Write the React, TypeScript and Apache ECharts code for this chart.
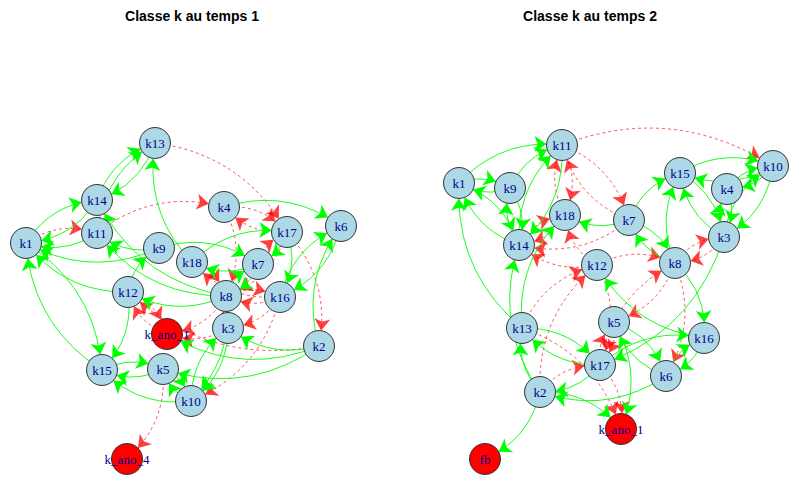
import React, { useEffect, useRef } from 'react';
import * as echarts from 'echarts';

// graph 1 : node names, positions (x, y in chart units) and class
const nodes1 = ['k13', 'k14', 'k11', 'k1', 'k9', 'k18', 'k4', 'k17', 'k6', 'k7', 'k16', 'k8', 'k3', 'k2', 'k12', 'k_ano_1', 'k15', 'k5', 'k10', 'k_ano_4'];
const posX1 = [155, 97, 97, 26, 159, 192, 224, 287, 341, 258, 280, 226, 228, 319, 128, 167, 102, 163, 191, 127];
const posY1 = [143, 200, 233, 243, 248, 262, 207, 232, 226, 264, 297, 296, 328, 346, 292, 334, 370, 369, 401, 459];
const anomaly1 = ['k_ano_1', 'k_ano_4'];

const green1 = [
  ['k13', 'k14'], ['k14', 'k13'], ['k11', 'k13'], ['k1', 'k14'], ['k11', 'k1'], ['k14', 'k1'],
  ['k12', 'k1'], ['k15', 'k1'], ['k1', 'k15'], ['k9', 'k1'], ['k9', 'k11'], ['k8', 'k11'],
  ['k12', 'k9'], ['k12', 'k15'], ['k18', 'k13'], ['k8', 'k14'], ['k7', 'k18'], ['k18', 'k17'],
  ['k4', 'k6'], ['k17', 'k7'], ['k6', 'k16'], ['k16', 'k6'], ['k17', 'k16'], ['k8', 'k7'],
  ['k7', 'k8'], ['k3', 'k10'], ['k10', 'k3'], ['k8', 'k10'], ['k5', 'k10'], ['k10', 'k5'],
  ['k15', 'k5'], ['k5', 'k15'], ['k10', 'k15'], ['k2', 'k3'], ['k2', 'k5'], ['k2', 'k_ano_1'],
  ['k2', 'k6'], ['k8', 'k12'], ['k9', 'k7']
];
const red1 = [
  ['k13', 'k17'], ['k4', 'k17'], ['k17', 'k4'], ['k11', 'k4'], ['k4', 'k8'], ['k16', 'k18'],
  ['k18', 'k8'], ['k7', 'k17'], ['k17', 'k8'], ['k16', 'k8'], ['k8', 'k16'], ['k17', 'k2'],
  ['k3', 'k8'], ['k16', 'k3'], ['k8', 'k_ano_1'], ['k3', 'k_ano_1'], ['k12', 'k_ano_1'],
  ['k_ano_1', 'k12'], ['k1', 'k11'], ['k5', 'k_ano_4'], ['k16', 'k10'], ['k2', 'k12']
];

// graph 2
const nodes2 = ['k11', 'k1', 'k9', 'k18', 'k7', 'k14', 'k12', 'k15', 'k10', 'k4', 'k3', 'k8', 'k13', 'k5', 'k16', 'k17', 'k6', 'k2', 'k_ano_1', 'fb'];
const posX2 = [562, 459, 510, 565, 629, 519, 597, 680, 773, 727, 724, 675, 522, 614, 704, 600, 666, 540, 621, 485];
const posY2 = [145, 183, 188, 215, 220, 245, 265, 173, 166, 189, 237, 263, 328, 322, 338, 365, 376, 392, 429, 459];
const anomaly2 = ['k_ano_1', 'fb'];

const green2 = [
  ['k1', 'k11'], ['k9', 'k11'], ['k14', 'k11'], ['k9', 'k1'], ['k1', 'k9'], ['k14', 'k1'],
  ['k13', 'k1'], ['k1', 'k14'], ['k9', 'k14'], ['k14', 'k9'], ['k11', 'k14'], ['k2', 'k14'],
  ['k13', 'k18'], ['k7', 'k18'], ['k7', 'k15'], ['k8', 'k7'], ['k7', 'k8'], ['k8', 'k15'],
  ['k8', 'k16'], ['k3', 'k17'], ['k15', 'k10'], ['k10', 'k15'], ['k4', 'k10'], ['k10', 'k4'],
  ['k3', 'k10'], ['k10', 'k3'], ['k3', 'k4'], ['k4', 'k3'], ['k15', 'k3'], ['k3', 'k15'],
  ['k16', 'k12'], ['k13', 'k17'], ['k17', 'k13'], ['k2', 'k13'], ['k17', 'k2'], ['k2', 'k_ano_1'],
  ['k6', 'k2'], ['k2', 'fb'], ['k17', 'k16'], ['k16', 'k6'], ['k6', 'k16'], ['k5', 'k6'],
  ['k6', 'k5'], ['k5', 'k_ano_1']
];
const red2 = [
  ['k11', 'k10'], ['k11', 'k7'], ['k7', 'k11'], ['k11', 'k18'], ['k18', 'k11'], ['k18', 'k14'],
  ['k12', 'k14'], ['k14', 'k18'], ['k12', 'k18'], ['k13', 'k12'], ['k2', 'k12'], ['k12', 'k8'],
  ['k17', 'k8'], ['k8', 'k3'], ['k3', 'k8'], ['k17', 'k_ano_1'], ['k13', 'k_ano_1'], ['k2', 'k17'],
  ['k5', 'k17'], ['k17', 'k5'], ['k8', 'k6'], ['k8', 'k5'], ['k7', 'k14'], ['k12', 'k17']
];

const titles = ['Classe k au temps 1', 'Classe k au temps 2'];

const GREEN = '#00ff00';
const RED = '#ff0000';

const buildNodes = (names: string[], xs: number[], ys: number[], anomalies: string[]) =>
  names.map((name, i) => ({
    name,
    value: [xs[i], ys[i]],
    itemStyle: { color: anomalies.includes(name) ? RED : '#add8e6' }
  }));

const buildLinks = (green: string[][], red: string[][]) => [
  ...red.map(([source, target]) => ({
    source,
    target,
    lineStyle: { color: RED, width: 0.9, type: [3, 3], opacity: 0.75 }
  })),
  ...green.map(([source, target]) => ({
    source,
    target,
    lineStyle: { color: GREEN, width: 0.9, type: 'solid', opacity: 1 }
  }))
];

const graphSeries = (nodes: any[], links: any[]) => ({
  type: 'graph',
  coordinateSystem: 'cartesian2d',
  xAxisIndex: 0,
  yAxisIndex: 0,
  symbol: 'circle',
  symbolSize: 31,
  edgeSymbol: ['none', 'arrow'],
  edgeSymbolSize: [0, 12],
  itemStyle: { borderColor: '#333333', borderWidth: 1 },
  label: {
    show: true,
    position: 'inside',
    color: '#00008b',
    fontFamily: 'Liberation Serif',
    fontSize: 13
  },
  lineStyle: { curveness: 0.25 },
  emphasis: { disabled: true },
  data: nodes,
  links
});

const App: React.FC = () => {
  const chartRef = useRef<HTMLDivElement>(null);

  useEffect(() => {
    if (!chartRef.current) return;
    const myChart = echarts.init(chartRef.current, null, { renderer: 'svg' });

    const option = {
      animation: false,
      backgroundColor: '#ffffff',
      title: titles.map((text, i) => ({
        text,
        left: i === 0 ? 187 : 585,
        top: 4,
        textAlign: 'center',
        textStyle: { fontSize: 14, fontWeight: 'bold', color: '#000', fontFamily: 'Liberation Sans' }
      })),
      grid: { left: 0, right: 0, top: 0, bottom: 0 },
      xAxis: { type: 'value', min: 0, max: 800, show: false },
      yAxis: { type: 'value', min: 0, max: 500, inverse: true, show: false },
      series: [
        graphSeries(buildNodes(nodes1, posX1, posY1, anomaly1), buildLinks(green1, red1)),
        graphSeries(buildNodes(nodes2, posX2, posY2, anomaly2), buildLinks(green2, red2))
      ]
    };

    myChart.setOption(option as any);

    return () => {
      myChart.dispose();
    };
  }, []);

  return (
    <div
      ref={chartRef}
      style={{ position: 'absolute', left: 0, top: 0, width: '800px', height: '500px' }}
    />
  );
};

export default App;
